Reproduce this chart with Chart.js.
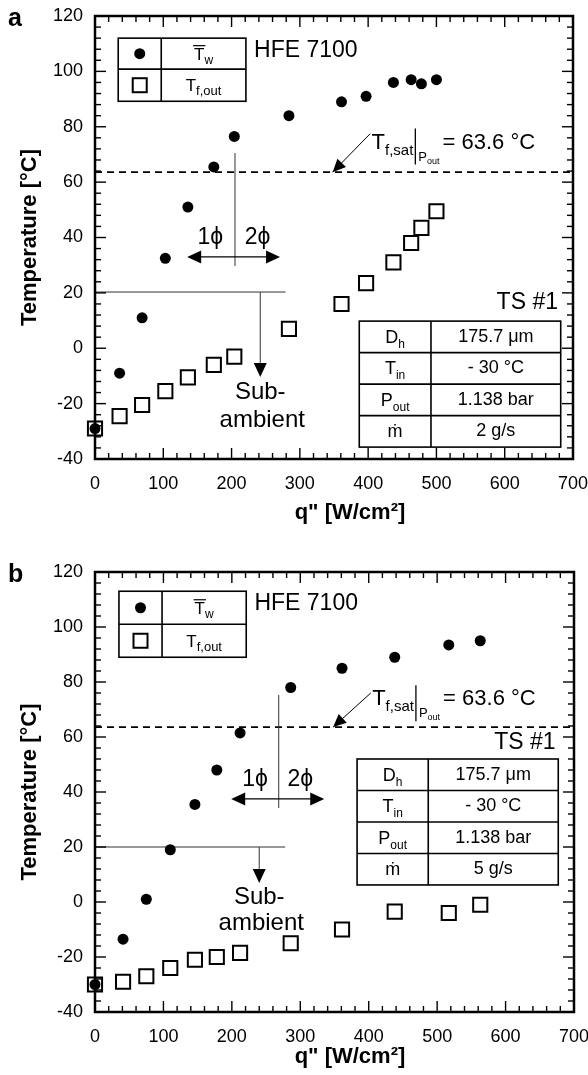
<!DOCTYPE html>
<html>
<head>
<meta charset="utf-8">
<script src="https://cdn.jsdelivr.net/npm/chart.js@4.4.1/dist/chart.umd.min.js"></script>
<style>
  body { margin: 0; background: #fff; }
  canvas { display: block; }
</style>
</head>
<body>
<canvas id="chartA" width="588" height="545"></canvas>
<canvas id="chartB" width="588" height="530"></canvas>
<script>
const FONT = '"Liberation Sans", Arial, Helvetica, sans-serif';

// panel a, 2 g/s : heat flux q" [W/cm2] and temperatures [C]
const qA = [0, 36, 69, 103, 136, 174, 204, 284, 361, 397, 437, 463, 478, 500];
const twA = [-29, -9, 11, 32.5, 51, 65.5, 76.5, 84, 89, 91, 96, 97, 95.5, 97];
const tfA = [-29, -24.5, -20.5, -15.5, -10.5, -6, -3, 7, 16, 23.5, 31, 38, 43.5, 49.5];

// panel b, 5 g/s
const qB = [0, 41, 75, 110, 146, 178, 212, 286, 361, 438, 517, 563];
const twB = [-30, -13.5, 1, 19, 35.5, 48, 61.5, 78, 85, 89, 93.5, 95];
const tfB = [-30, -29, -27, -24, -21, -20, -18.5, -15, -10, -3.5, -4, -1];

const tSat = 63.6;
const paramNames = [['D', 'h'], ['T', 'in'], ['P', 'out'], ['ṁ', '']];
const paramValsA = ['175.7 μm', '- 30 °C', '1.138 bar', '2 g/s'];
const paramValsB = ['175.7 μm', '- 30 °C', '1.138 bar', '5 g/s'];

// where the annotations sit, in data units
const notesA = {
  letter: 'a', params: paramValsA, titleY: 513,
  legend: { x0: 34, x1: 221, xm: 97, y0: 112, y1: 89.2, ym: 100.8 },
  hfe: { x: 233, y: 107.6 },
  sat: { x: 405, y: 75, ax: 403, ay: 77.5, tx: 348 },
  phase: { x: 205, y0: 70.5, y1: 29.7, ya: 33, xa0: 135, xa1: 271, yl: 39.8, xl1: 169, xl2: 238 },
  amb: { y: 20.3, x1: 279, xa: 242, ya: -10.4, ySub: -15.8, yAmb: -26 },
  ts: { x: 678, y: 16.3 },
  table: { x0: 387, x1: 682, xm: 492, y0: 9.8, y1: -35.7 }
};
const notesB = {
  letter: 'b', params: paramValsB, titleY: 512,
  legend: { x0: 35, x1: 221, xm: 98, y0: 113, y1: 89, ym: 101 },
  hfe: { x: 233, y: 108.4 },
  sat: { x: 405, y: 74.5, ax: 403, ay: 76, tx: 348 },
  phase: { x: 268.5, y0: 75.3, y1: 34.2, ya: 37.5, xa0: 199, xa1: 335, yl: 44.4, xl1: 234, xl2: 300 },
  amb: { y: 20, x1: 278, xa: 240, ya: 6.9, ySub: 1.8, yAmb: -7.6 },
  ts: { x: 673, y: 57.8 },
  table: { x0: 383, x1: 677, xm: 487, y0: 52, y1: 6.2 }
};

function font(size, weight) {
  return (weight || 'normal') + ' ' + size + 'px ' + FONT;
}

// draw text runs with sub/superscripts: [text, size, dy]
function runs(ctx, x, y, parts, align) {
  let w = 0;
  parts.forEach(p => { ctx.font = font(p[1]); w += ctx.measureText(p[0]).width; });
  let cx = align === 'center' ? x - w / 2 : align === 'right' ? x - w : x;
  ctx.textAlign = 'left';
  ctx.textBaseline = 'alphabetic';
  parts.forEach(p => {
    ctx.font = font(p[1]);
    ctx.fillText(p[0], cx, y + (p[2] || 0));
    cx += ctx.measureText(p[0]).width;
  });
  return cx;
}

function arrowHead(ctx, x1, y1, x2, y2, len, half) {
  const a = Math.atan2(y2 - y1, x2 - x1);
  const bx = x2 - len * Math.cos(a), by = y2 - len * Math.sin(a);
  ctx.beginPath();
  ctx.moveTo(x2, y2);
  ctx.lineTo(bx + half * Math.sin(a), by - half * Math.cos(a));
  ctx.lineTo(bx - half * Math.sin(a), by + half * Math.cos(a));
  ctx.closePath();
  ctx.fill();
}

function line(ctx, x1, y1, x2, y2) {
  ctx.beginPath();
  ctx.moveTo(x1, y1);
  ctx.lineTo(x2, y2);
  ctx.stroke();
}

const figurePlugin = {
  id: 'figure',
  beforeDatasetsDraw(chart, args, opts) {
    const ctx = chart.ctx, a = chart.chartArea, n = opts.notes;
    const X = v => chart.scales.x.getPixelForValue(v);
    const Y = v => chart.scales.y.getPixelForValue(v);
    ctx.save();
    ctx.strokeStyle = '#000';
    // saturation line
    ctx.lineWidth = 1.6;
    ctx.setLineDash([7, 5]);
    line(ctx, a.left, Y(tSat), a.right, Y(tSat));
    ctx.setLineDash([]);
    // ambient line + arrow
    ctx.lineWidth = 1;
    ctx.strokeStyle = '#333';
    line(ctx, a.left, Y(n.amb.y), X(n.amb.x1), Y(n.amb.y));
    line(ctx, X(n.amb.xa), Y(n.amb.y), X(n.amb.xa), Y(n.amb.ya) - 8);
    // phase divider
    line(ctx, X(n.phase.x), Y(n.phase.y0), X(n.phase.x), Y(n.phase.y1));
    ctx.strokeStyle = '#000';
    ctx.lineWidth = 1.3;
    line(ctx, X(n.phase.xa0) + 8, Y(n.phase.ya), X(n.phase.xa1) - 8, Y(n.phase.ya));
    ctx.restore();
  },
  afterDraw(chart, args, opts) {
    const ctx = chart.ctx, a = chart.chartArea, n = opts.notes;
    const X = v => chart.scales.x.getPixelForValue(v);
    const Y = v => chart.scales.y.getPixelForValue(v);
    ctx.save();
    ctx.fillStyle = '#000';
    ctx.strokeStyle = '#000';

    // inward ticks on all four sides
    ctx.lineWidth = 1.4;
    for (let v = -40; v <= 120; v += 4) {
      const len = v % 20 === 0 ? 11 : 6;
      const y = Y(v);
      line(ctx, a.left, y, a.left + len, y);
      line(ctx, a.right, y, a.right - len, y);
    }
    for (let v = 0; v <= 700; v += 20) {
      const len = v % 100 === 0 ? 11 : 6;
      const x = X(v);
      line(ctx, x, a.bottom, x, a.bottom - len);
      line(ctx, x, a.top, x, a.top + len);
    }
    // frame
    ctx.lineWidth = 2.5;
    ctx.strokeRect(a.left, a.top, a.right - a.left, a.bottom - a.top);

    // axis titles
    ctx.font = font(22, 'bold');
    ctx.textAlign = 'center';
    ctx.textBaseline = 'middle';
    ctx.save();
    ctx.translate(30, (a.top + a.bottom) / 2);
    ctx.rotate(-Math.PI / 2);
    ctx.fillText('Temperature [°C]', 0, 0);
    ctx.restore();
    ctx.textAlign = 'center';
    ctx.textBaseline = 'middle';
    ctx.font = font(22, 'bold');
    ctx.fillText('q" [W/cm²]', 350, n.titleY);

    // panel letter
    ctx.font = font(25, 'bold');
    ctx.textAlign = 'left';
    ctx.textBaseline = 'middle';
    ctx.fillText(n.letter, 8, a.top + 3);

    // legend box
    const L = n.legend;
    ctx.lineWidth = 1.6;
    ctx.strokeRect(X(L.x0), Y(L.y0), X(L.x1) - X(L.x0), Y(L.y1) - Y(L.y0));
    line(ctx, X(L.xm), Y(L.y0), X(L.xm), Y(L.y1));
    line(ctx, X(L.x0), Y(L.ym), X(L.x1), Y(L.ym));
    const mx = (X(L.x0) + X(L.xm)) / 2, tx = (X(L.xm) + X(L.x1)) / 2;
    const r1 = (Y(L.y0) + Y(L.ym)) / 2, r2 = (Y(L.ym) + Y(L.y1)) / 2;
    ctx.beginPath();
    ctx.arc(mx, r1, 5.5, 0, Math.PI * 2);
    ctx.fill();
    ctx.lineWidth = 2;
    ctx.strokeRect(mx - 7, r2 - 7, 14, 14);
    ctx.font = font(17);
    const tw = ctx.measureText('T').width;
    ctx.font = font(12);
    const ww = ctx.measureText('w').width;
    const tx0 = tx - (tw + ww) / 2;
    runs(ctx, tx0, r1 + 6, [['T', 17], ['w', 12, 4]]);
    ctx.lineWidth = 1.2;
    line(ctx, tx0 - 1, r1 - 8, tx0 + tw + 1, r1 - 8);
    runs(ctx, tx, r2 + 6, [['T', 17], ['f,out', 13, 4]], 'center');

    // fluid name
    ctx.font = font(23);
    ctx.textAlign = 'left';
    ctx.textBaseline = 'middle';
    ctx.fillText('HFE 7100', X(n.hfe.x), Y(n.hfe.y));

    // saturation label and arrow
    const S = n.sat;
    const sx = X(S.x), sy = Y(S.y) + 8;
    let cx = runs(ctx, sx, sy, [['T', 22], ['f,sat', 15, 6]]);
    ctx.lineWidth = 1.3;
    line(ctx, cx + 2, sy - 20, cx + 2, sy + 16);
    cx = runs(ctx, cx + 5, sy + 12, [['P', 13], ['out', 9, 3]]);
    runs(ctx, cx + 3, sy, [['= 63.6 °C', 22]]);
    ctx.lineWidth = 1;
    line(ctx, X(S.ax), Y(S.ay), X(S.tx), Y(tSat));
    arrowHead(ctx, X(S.ax), Y(S.ay), X(S.tx), Y(tSat), 13, 6);

    // phase labels and double arrow
    const P = n.phase;
    ctx.font = font(23);
    ctx.textAlign = 'center';
    ctx.textBaseline = 'middle';
    ctx.fillText('1ϕ', X(P.xl1), Y(P.yl));
    ctx.fillText('2ϕ', X(P.xl2), Y(P.yl));
    arrowHead(ctx, X(P.xa1), Y(P.ya), X(P.xa0), Y(P.ya), 14, 6.5);
    arrowHead(ctx, X(P.xa0), Y(P.ya), X(P.xa1), Y(P.ya), 14, 6.5);

    // sub-ambient arrow and label
    const M = n.amb;
    arrowHead(ctx, X(M.xa), Y(M.y), X(M.xa), Y(M.ya), 14, 6.5);
    ctx.font = font(24);
    ctx.fillText('Sub-', X(M.xa), Y(M.ySub));
    ctx.fillText('ambient', X(M.xa) + 2, Y(M.yAmb));

    // test section
    ctx.font = font(23);
    ctx.textAlign = 'right';
    ctx.fillText('TS #1', X(n.ts.x), Y(n.ts.y));

    // parameter table
    const T = n.table;
    const x0 = X(T.x0), x1 = X(T.x1), xm = X(T.xm), y0 = Y(T.y0), y1 = Y(T.y1);
    const rh = (y1 - y0) / 4;
    ctx.lineWidth = 1.6;
    ctx.fillStyle = '#fff';
    ctx.fillRect(x0, y0, x1 - x0, y1 - y0);
    ctx.fillStyle = '#000';
    ctx.strokeRect(x0, y0, x1 - x0, y1 - y0);
    line(ctx, xm, y0, xm, y1);
    for (let i = 1; i < 4; i++) line(ctx, x0, y0 + rh * i, x1, y0 + rh * i);
    for (let i = 0; i < 4; i++) {
      const cy = y0 + rh * (i + 0.5);
      runs(ctx, (x0 + xm) / 2, cy + 6, [[paramNames[i][0], 18], [paramNames[i][1], 12, 5]], 'center');
      ctx.font = font(18);
      ctx.textAlign = 'center';
      ctx.textBaseline = 'middle';
      ctx.fillText(n.params[i], (xm + x1) / 2, cy);
    }
    ctx.restore();
  }
};

function noPad(s) {
  s.paddingLeft = 0;
  s.paddingRight = 0;
  s.paddingTop = 0;
  s.paddingBottom = 0;
}

function makeChart(id, q, tw, tf, notes, layout) {
  return new Chart(document.getElementById(id), {
    type: 'scatter',
    data: {
      datasets: [
        {
          label: 'Tw',
          data: q.map((v, i) => ({ x: v, y: tw[i] })),
          pointStyle: 'circle',
          pointRadius: 5.5,
          backgroundColor: '#000',
          borderColor: '#000',
          borderWidth: 0,
          clip: false
        },
        {
          label: 'Tf,out',
          data: q.map((v, i) => ({ x: v, y: tf[i] })),
          pointStyle: 'rect',
          pointRadius: 10,
          backgroundColor: 'rgba(255,255,255,0)',
          borderColor: '#000',
          borderWidth: 2,
          clip: false
        }
      ]
    },
    options: {
      responsive: false,
      animation: false,
      events: [],
      layout: { padding: { left: 0, top: layout.top, right: layout.right, bottom: 0 } },
      plugins: {
        legend: { display: false },
        tooltip: { enabled: false },
        figure: { notes: notes }
      },
      scales: {
        x: {
          type: 'linear',
          min: 0,
          max: 700,
          afterFit: s => { s.height = layout.xh; noPad(s); },
          grid: { display: false, drawTicks: false },
          border: { display: false },
          ticks: { stepSize: 100, padding: 14, color: '#000', font: { size: 18, family: FONT } }
        },
        y: {
          min: -40,
          max: 120,
          afterFit: s => { s.width = layout.left; noPad(s); },
          grid: { display: false, drawTicks: false },
          border: { display: false },
          ticks: { stepSize: 20, padding: 12, color: '#000', font: { size: 18, family: FONT } }
        }
      }
    },
    plugins: [figurePlugin]
  });
}

makeChart('chartA', qA, twA, tfA, notesA, { top: 16, right: 15, left: 95, xh: 545 - 459 });
makeChart('chartB', qB, twB, tfB, notesB, { top: 27, right: 14, left: 95, xh: 530 - 467 });
</script>
</body>
</html>
